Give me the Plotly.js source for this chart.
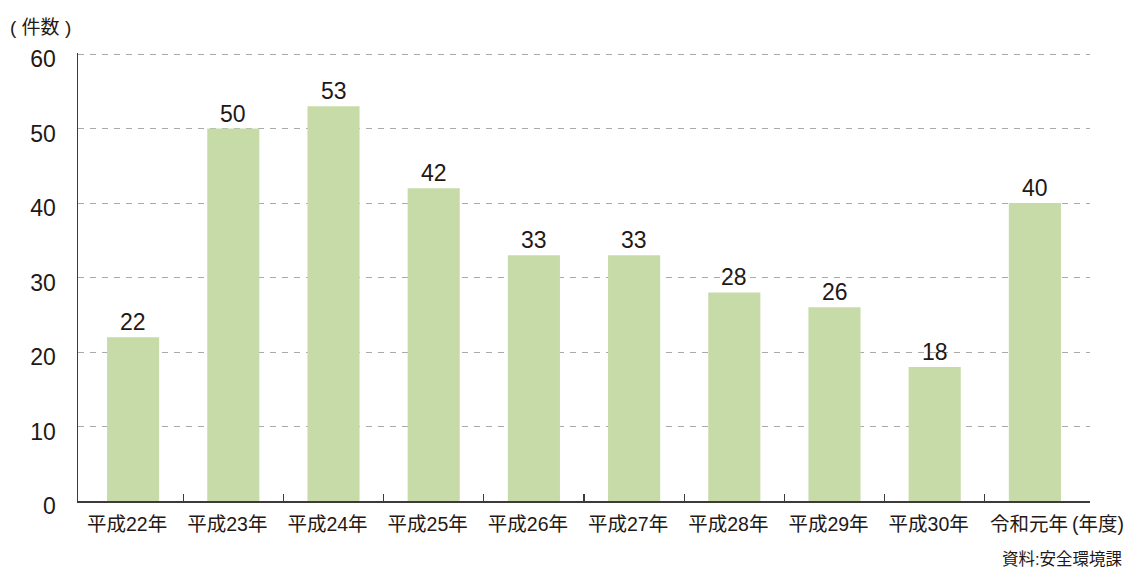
<!DOCTYPE html>
<html><head><meta charset="utf-8">
<script src="https://cdn.plot.ly/plotly-3.0.1.min.js"></script>
<style>html,body{margin:0;padding:0;background:#fff}#chart{width:1126px;height:570px}</style>
</head><body><div id="chart"></div>
<script>
const categories = ["平成22年","平成23年","平成24年","平成25年","平成26年","平成27年","平成28年","平成29年","平成30年","令和元年"];
const counts = [22, 50, 53, 42, 33, 33, 28, 26, 18, 40];
const yTicks = [0, 10, 20, 30, 40, 50, 60];
const boundaryTicks = [0.5, 1.5, 2.5, 3.5, 4.5, 5.5, 6.5, 7.5, 8.5];

const FONT = "'Liberation Sans', 'Noto Sans CJK JP', sans-serif";
const DARK = "#231815";
const idx = categories.map((c, i) => i);

const data = [{
  type: "bar",
  x: idx,
  y: counts,
  width: 0.52,
  marker: {color: "#c6dba8"},
  hoverinfo: "none"
}, {
  type: "scatter", x: [0], y: [0], xaxis: "x2", yaxis: "y", mode: "markers",
  marker: {opacity: 0}, hoverinfo: "none", showlegend: false
}];

const valueLabels = counts.map((v, i) => ({
  text: String(v), xref: "x", yref: "y", x: idx[i], y: v,
  xanchor: "center", yanchor: "bottom", yshift: 0, showarrow: false,
  font: {family: FONT, size: 23, color: DARK}
}));

const layout = {
  width: 1126, height: 570,
  margin: {l: 78, r: 36, t: 53, b: 69},
  paper_bgcolor: "#fff", plot_bgcolor: "#fff",
  showlegend: false,
  font: {family: FONT, color: DARK},
  xaxis: {
    range: [-0.55, 9.55],
    tickmode: "array", tickvals: idx, ticktext: categories,
    ticks: "", showgrid: false, zeroline: false,
    showline: true, linecolor: "#3e3a39", linewidth: 1.5,
    ticklabelstandoff: 5, ticklabelshift: -6,
    tickfont: {family: FONT, size: 19.5, color: DARK},
    fixedrange: true
  },
  xaxis2: {
    overlaying: "x", range: [-0.55, 9.55],
    tickmode: "array", tickvals: boundaryTicks,
    ticks: "inside", ticklen: 7, tickwidth: 1.2, tickcolor: "#3e3a39",
    showticklabels: false, showgrid: false, zeroline: false, showline: false,
    anchor: "y"
  },
  yaxis: {
    range: [0, 60.15],
    tickmode: "array", tickvals: yTicks,
    showgrid: true, gridcolor: "#aaaaaa", griddash: "6px,6px", gridwidth: 1,
    zeroline: false, showline: true, linecolor: "#3e3a39", linewidth: 1.5,
    ticks: "", ticklabelstandoff: 16, ticklabelshift: 5,
    tickfont: {family: FONT, size: 23, color: DARK},
    fixedrange: true
  },
  annotations: valueLabels.concat([
    {text: "( 件数 )", xref: "paper", yref: "paper", x: -0.069, y: 1.056, xanchor: "left", yanchor: "middle",
     showarrow: false, font: {family: FONT, size: 19, color: DARK}},
    {text: "(年度)", xref: "paper", yref: "paper", x: 1.036, y: -0.023, xanchor: "right", yanchor: "top",
     showarrow: false, font: {family: FONT, size: 19.5, color: DARK}},
    {text: "資料:安全環境課", xref: "paper", yref: "paper", x: 1.035, y: -0.129, xanchor: "right", yanchor: "middle",
     showarrow: false, font: {family: FONT, size: 16.5, color: DARK}}
  ])
};

Plotly.newPlot("chart", data, layout, {displayModeBar: false, staticPlot: true});
</script></body></html>
